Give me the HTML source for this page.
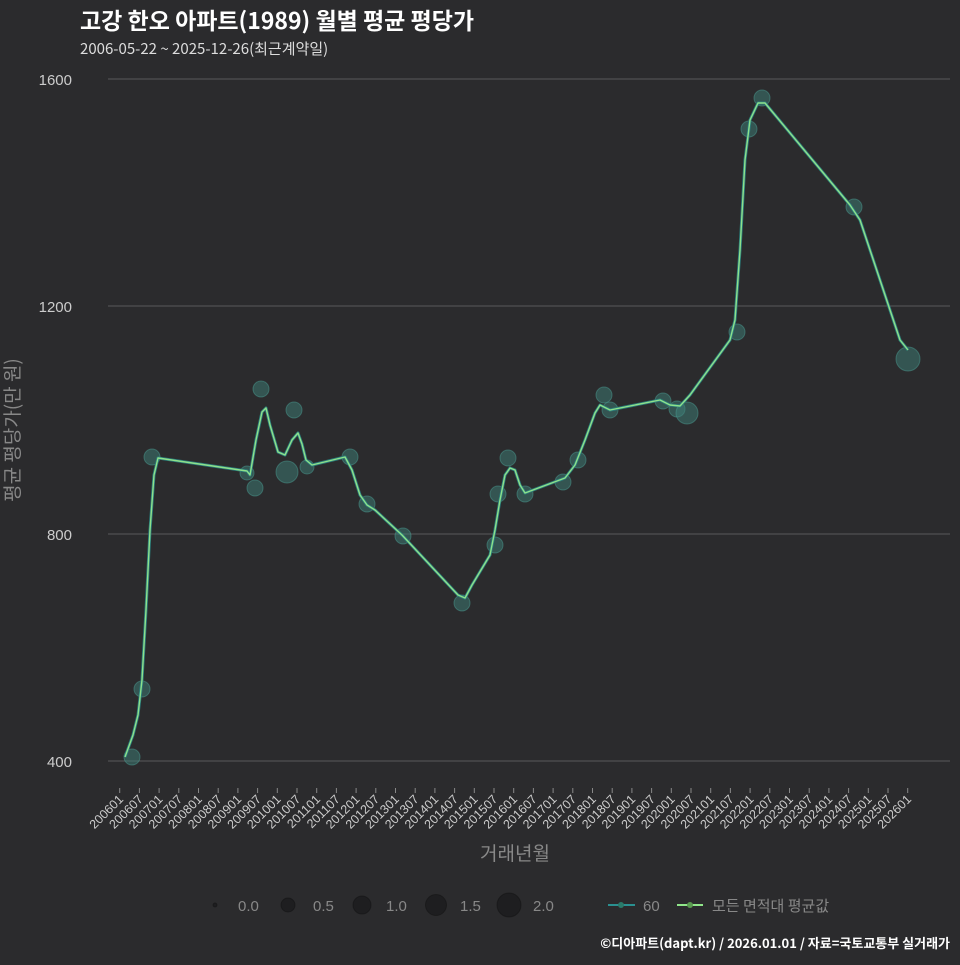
<!DOCTYPE html><html><head><meta charset="utf-8"><style>
body{margin:0;background:#2b2b2d;}
text{font-family:"Liberation Sans","Noto Sans CJK KR",sans-serif;}
.k{font-family:"Noto Sans CJK KR","Liberation Sans",sans-serif;}
</style></head><body>
<svg width="960" height="960" xmlns="http://www.w3.org/2000/svg">
<rect width="960" height="960" fill="#2b2b2d"/>
<text class="k" x="80" y="29" font-size="23" font-weight="bold" fill="#fff">고강 한오 아파트(1989) 월별 평균 평당가</text>
<text class="k" x="80" y="54" font-size="15" fill="#ddd">2006-05-22 ~ 2025-12-26(최근계약일)</text>
<g stroke="#5a5a5c" stroke-width="1">
<line x1="108" y1="79" x2="950" y2="79"/><line x1="108" y1="306" x2="950" y2="306"/>
<line x1="108" y1="534" x2="950" y2="534"/><line x1="108" y1="761" x2="950" y2="761"/>
</g>
<g font-size="15" fill="#ccc" text-anchor="end">
<text x="72" y="85">1600</text><text x="72" y="312">1200</text><text x="72" y="540">800</text><text x="72" y="767">400</text>
</g>
<text class="k" transform="translate(19,430) rotate(-90)" font-size="19" fill="#888" text-anchor="middle">평균 평당가(만 원)</text>
<text class="k" x="515" y="860" font-size="19" fill="#888" text-anchor="middle">거래년월</text>
<g stroke="#888">
<line x1="119.7" y1="788" x2="119.7" y2="793"/><line x1="139.4" y1="788" x2="139.4" y2="793"/><line x1="159.1" y1="788" x2="159.1" y2="793"/><line x1="178.8" y1="788" x2="178.8" y2="793"/><line x1="198.5" y1="788" x2="198.5" y2="793"/><line x1="218.2" y1="788" x2="218.2" y2="793"/><line x1="237.9" y1="788" x2="237.9" y2="793"/><line x1="257.6" y1="788" x2="257.6" y2="793"/><line x1="277.3" y1="788" x2="277.3" y2="793"/><line x1="297" y1="788" x2="297" y2="793"/><line x1="316.7" y1="788" x2="316.7" y2="793"/><line x1="336.4" y1="788" x2="336.4" y2="793"/><line x1="356.1" y1="788" x2="356.1" y2="793"/><line x1="375.8" y1="788" x2="375.8" y2="793"/><line x1="395.5" y1="788" x2="395.5" y2="793"/><line x1="415.2" y1="788" x2="415.2" y2="793"/><line x1="434.9" y1="788" x2="434.9" y2="793"/><line x1="454.6" y1="788" x2="454.6" y2="793"/><line x1="474.3" y1="788" x2="474.3" y2="793"/><line x1="494" y1="788" x2="494" y2="793"/><line x1="513.7" y1="788" x2="513.7" y2="793"/><line x1="533.4" y1="788" x2="533.4" y2="793"/><line x1="553.1" y1="788" x2="553.1" y2="793"/><line x1="572.8" y1="788" x2="572.8" y2="793"/><line x1="592.5" y1="788" x2="592.5" y2="793"/><line x1="612.2" y1="788" x2="612.2" y2="793"/><line x1="631.9" y1="788" x2="631.9" y2="793"/><line x1="651.6" y1="788" x2="651.6" y2="793"/><line x1="671.3" y1="788" x2="671.3" y2="793"/><line x1="691" y1="788" x2="691" y2="793"/><line x1="710.7" y1="788" x2="710.7" y2="793"/><line x1="730.4" y1="788" x2="730.4" y2="793"/><line x1="750.1" y1="788" x2="750.1" y2="793"/><line x1="769.8" y1="788" x2="769.8" y2="793"/><line x1="789.5" y1="788" x2="789.5" y2="793"/><line x1="809.2" y1="788" x2="809.2" y2="793"/><line x1="828.9" y1="788" x2="828.9" y2="793"/><line x1="848.6" y1="788" x2="848.6" y2="793"/><line x1="868.3" y1="788" x2="868.3" y2="793"/><line x1="888" y1="788" x2="888" y2="793"/><line x1="907.7" y1="788" x2="907.7" y2="793"/>
</g>
<g font-size="12.5" fill="#ccc" text-anchor="end">
<text transform="translate(124,800) rotate(-45)">200601</text>
<text transform="translate(143.7,800) rotate(-45)">200607</text>
<text transform="translate(163.4,800) rotate(-45)">200701</text>
<text transform="translate(183.1,800) rotate(-45)">200707</text>
<text transform="translate(202.8,800) rotate(-45)">200801</text>
<text transform="translate(222.5,800) rotate(-45)">200807</text>
<text transform="translate(242.2,800) rotate(-45)">200901</text>
<text transform="translate(261.9,800) rotate(-45)">200907</text>
<text transform="translate(281.6,800) rotate(-45)">201001</text>
<text transform="translate(301.3,800) rotate(-45)">201007</text>
<text transform="translate(321,800) rotate(-45)">201101</text>
<text transform="translate(340.7,800) rotate(-45)">201107</text>
<text transform="translate(360.4,800) rotate(-45)">201201</text>
<text transform="translate(380.1,800) rotate(-45)">201207</text>
<text transform="translate(399.8,800) rotate(-45)">201301</text>
<text transform="translate(419.5,800) rotate(-45)">201307</text>
<text transform="translate(439.2,800) rotate(-45)">201401</text>
<text transform="translate(458.9,800) rotate(-45)">201407</text>
<text transform="translate(478.6,800) rotate(-45)">201501</text>
<text transform="translate(498.3,800) rotate(-45)">201507</text>
<text transform="translate(518,800) rotate(-45)">201601</text>
<text transform="translate(537.7,800) rotate(-45)">201607</text>
<text transform="translate(557.4,800) rotate(-45)">201701</text>
<text transform="translate(577.1,800) rotate(-45)">201707</text>
<text transform="translate(596.8,800) rotate(-45)">201801</text>
<text transform="translate(616.5,800) rotate(-45)">201807</text>
<text transform="translate(636.2,800) rotate(-45)">201901</text>
<text transform="translate(655.9,800) rotate(-45)">201907</text>
<text transform="translate(675.6,800) rotate(-45)">202001</text>
<text transform="translate(695.3,800) rotate(-45)">202007</text>
<text transform="translate(715,800) rotate(-45)">202101</text>
<text transform="translate(734.7,800) rotate(-45)">202107</text>
<text transform="translate(754.4,800) rotate(-45)">202201</text>
<text transform="translate(774.1,800) rotate(-45)">202207</text>
<text transform="translate(793.8,800) rotate(-45)">202301</text>
<text transform="translate(813.5,800) rotate(-45)">202307</text>
<text transform="translate(833.2,800) rotate(-45)">202401</text>
<text transform="translate(852.9,800) rotate(-45)">202407</text>
<text transform="translate(872.6,800) rotate(-45)">202501</text>
<text transform="translate(892.3,800) rotate(-45)">202507</text>
<text transform="translate(912,800) rotate(-45)">202601</text>
</g>
<g fill="#3d7f78" fill-opacity="0.5" stroke="#4a9a90" stroke-opacity="0.5">
<circle cx="132" cy="757" r="8"/><circle cx="142" cy="689" r="8"/><circle cx="152" cy="457" r="8"/>
<circle cx="247" cy="473" r="7"/><circle cx="255" cy="488" r="8"/><circle cx="261" cy="389" r="8"/>
<circle cx="294" cy="410" r="8"/><circle cx="287" cy="472" r="11"/><circle cx="307" cy="467" r="7"/>
<circle cx="350" cy="457" r="8"/><circle cx="367" cy="504" r="8"/><circle cx="403" cy="536" r="8"/>
<circle cx="462" cy="603" r="8"/><circle cx="495" cy="545" r="8"/><circle cx="498" cy="494" r="8"/>
<circle cx="508" cy="458" r="8"/><circle cx="525" cy="494" r="8"/><circle cx="563" cy="482" r="8"/>
<circle cx="578" cy="460" r="8"/><circle cx="604" cy="395" r="8"/><circle cx="610" cy="410" r="8"/>
<circle cx="663" cy="401" r="8"/><circle cx="677" cy="409" r="8"/><circle cx="687" cy="413" r="11"/>
<circle cx="737" cy="332" r="8"/><circle cx="749" cy="129" r="8"/><circle cx="762" cy="98" r="8"/>
<circle cx="854" cy="207" r="8"/><circle cx="908" cy="359" r="12"/>
</g>
<g fill="none" stroke-linejoin="round">
<polyline stroke="#2a7f7c" stroke-width="3" points="125,757 133,735 138,715 142,680 146,610 150,530 154,475 158,458 247,471 250,475 256,440 262,412 266,408 270,425 278,452 285,455 292,440 298,433 302,444 306,460 312,465 345,457 352,470 360,495 367,505 375,510 402,535 458,595 465,598 472,585 490,555 495,530 500,500 505,475 510,468 515,470 520,485 525,493 565,478 575,465 585,440 595,413 600,405 610,410 660,400 670,405 680,406 690,395 730,340 735,320 740,250 745,160 750,120 758,103 765,103 850,205 860,220 900,340 908,350"/>
<polyline stroke="#8fe08a" stroke-width="1.4" points="125,757 133,735 138,715 142,680 146,610 150,530 154,475 158,458 247,471 250,475 256,440 262,412 266,408 270,425 278,452 285,455 292,440 298,433 302,444 306,460 312,465 345,457 352,470 360,495 367,505 375,510 402,535 458,595 465,598 472,585 490,555 495,530 500,500 505,475 510,468 515,470 520,485 525,493 565,478 575,465 585,440 595,413 600,405 610,410 660,400 670,405 680,406 690,395 730,340 735,320 740,250 745,160 750,120 758,103 765,103 850,205 860,220 900,340 908,350"/>
</g>
<g fill="#1e1e20" stroke="#111" stroke-opacity="0.5">
<circle cx="215" cy="905" r="2"/><circle cx="288" cy="905" r="7"/><circle cx="362" cy="905" r="9"/>
<circle cx="436" cy="905" r="10.5"/><circle cx="509" cy="905" r="12"/>
</g>
<g font-size="15" fill="#888">
<text x="238" y="911">0.0</text><text x="313" y="911">0.5</text><text x="386" y="911">1.0</text>
<text x="460" y="911">1.5</text><text x="533" y="911">2.0</text>
<text x="643" y="911">60</text><text class="k" x="712" y="911">모든 면적대 평균값</text>
</g>
<line x1="608" y1="905" x2="635" y2="905" stroke="#2a9090" stroke-width="2"/><circle cx="621" cy="905" r="3" fill="#2a7a6a"/>
<line x1="677" y1="905" x2="703" y2="905" stroke="#90e68a" stroke-width="2"/><circle cx="690" cy="905" r="3" fill="#5a9a50"/>
<text class="k" x="950" y="948" font-size="13" font-weight="bold" fill="#fff" text-anchor="end">©디아파트(dapt.kr) / 2026.01.01 / 자료=국토교통부 실거래가</text>
</svg>
</body></html>
